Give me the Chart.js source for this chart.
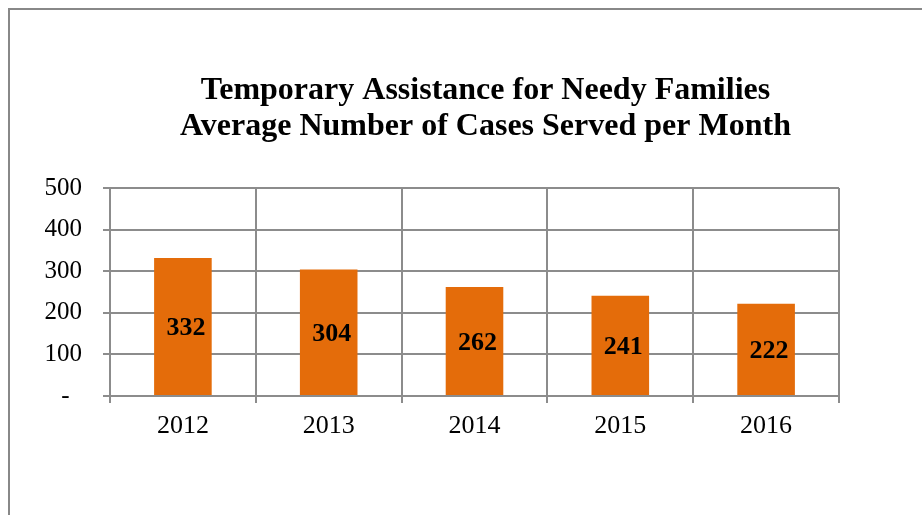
<!DOCTYPE html>
<html>
<head>
<meta charset="utf-8">
<script src="https://cdn.jsdelivr.net/npm/chart.js@4"></script>
<style>
  html, body { margin: 0; padding: 0; background: #fff; }
  #wrap { width: 922px; height: 515px; }
</style>
</head>
<body>
<div id="wrap"><canvas id="casesChart" width="922" height="515"></canvas></div>
<script>
const years = ['2012', '2013', '2014', '2015', '2016'];
const cases = [332, 304, 262, 241, 222];
const yTickLabels = ['-', '100', '200', '300', '400', '500'];
const titleLines = [
    'Temporary Assistance for Needy Families',
    'Average Number of Cases Served per Month'
];

const serif = "'Liberation Serif', 'Times New Roman', serif";
const gridGray = '#8c8c8c';

// outer frame (top + left edge of the pasted chart)
const framePlugin = {
    id: 'frame',
    afterDraw(chart) {
        const ctx = chart.ctx;
        ctx.save();
        ctx.strokeStyle = '#888';
        ctx.lineWidth = 2;
        ctx.beginPath();
        ctx.moveTo(9, chart.height);
        ctx.lineTo(9, 9);
        ctx.lineTo(chart.width, 9);
        ctx.stroke();
        ctx.restore();
    }
};

// value labels in the middle of each bar
const barLabels = {
    id: 'barLabels',
    afterDatasetsDraw(chart) {
        const ctx = chart.ctx;
        const meta = chart.getDatasetMeta(0);
        ctx.save();
        ctx.font = 'bold 26px ' + serif;
        ctx.fillStyle = '#000';
        ctx.textAlign = 'center';
        ctx.textBaseline = 'middle';
        meta.data.forEach((bar, i) => {
            const mid = (bar.y + bar.base) / 2;
            ctx.fillText(String(cases[i]), bar.x + 3, mid + 2);
        });
        ctx.restore();
    }
};

const config = {
    type: 'bar',
    data: {
        labels: years,
        datasets: [{
            data: cases,
            backgroundColor: '#E46C0A',
            borderWidth: 0,
            categoryPercentage: 1,
            barPercentage: 0.395
        }]
    },
    options: {
        responsive: false,
        animation: false,
        layout: { padding: { left: 40, top: 0, right: -9, bottom: 0 } },
        plugins: {
            legend: { display: false },
            tooltip: { enabled: false },
            title: {
                display: true,
                text: titleLines,
                color: '#000',
                font: { family: serif, size: 32, weight: 'bold', lineHeight: 36 / 32 },
                padding: { top: 73, bottom: 43 }
            }
        },
        scales: {
            x: {
                grid: { color: gridGray, lineWidth: 2, tickLength: 7, offset: true },
                border: { color: gridGray, width: 2 },
                ticks: { color: '#000', padding: 8, font: { family: serif, size: 26 } },
                afterFit(scale) { scale.height = 119; }
            },
            y: {
                min: 0,
                max: 500,
                grid: { color: gridGray, lineWidth: 2, tickLength: 7 },
                border: { color: gridGray, width: 2 },
                ticks: {
                    stepSize: 100,
                    color: '#000',
                    padding: 21,
                    font: { family: serif, size: 25 },
                    callback: (v, i) => yTickLabels[i] === '-' ? '-  ' : yTickLabels[i]
                },
                afterFit(scale) { scale.width = 70; }
            },
            yRight: {
                position: 'right',
                grid: { display: false },
                border: { display: false },
                ticks: { display: false },
                afterFit(scale) { scale.width = 92; }
            }
        }
    },
    plugins: [framePlugin, barLabels]
};

new Chart(document.querySelector('#casesChart'), config);
</script>
</body>
</html>
